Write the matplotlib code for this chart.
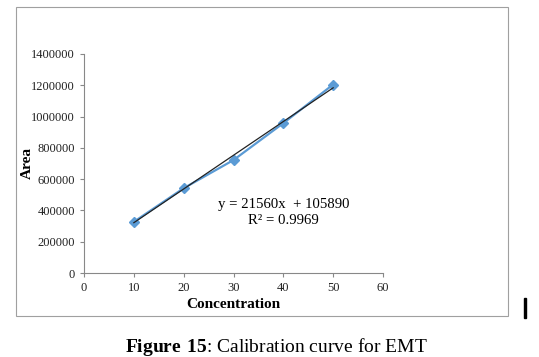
import numpy as np
import matplotlib.pyplot as plt
from matplotlib.patches import Rectangle
from matplotlib.ticker import FormatStrFormatter

conc = [10, 20, 30, 40, 50]
area = [327000, 542000, 722000, 958000, 1205000]
slope = 21560
intercept = 105890
r2 = 0.9969
x_ticks = [0, 10, 20, 30, 40, 50, 60]
y_ticks = [0, 200000, 400000, 600000, 800000, 1000000, 1200000, 1400000]

plt.rcParams['font.family'] = ['Liberation Serif', 'DejaVu Serif']
plt.rcParams['mathtext.fontset'] = 'custom'
plt.rcParams['mathtext.rm'] = 'Liberation Serif'
plt.rcParams['mathtext.bf'] = 'Liberation Serif:bold'

fig = plt.figure(figsize=(5.39, 3.57), dpi=100)
W, H = 539, 357

# outer chart frame
fig.patches.append(Rectangle((16 / W, 1 - 316 / H), (508 - 16) / W, (316 - 7) / H,
                             transform=fig.transFigure, fill=False,
                             edgecolor='#a0a0a0', linewidth=0.8))
fig.patches.append(Rectangle((524 / W, 1 - 318 / H), 2 / W, 20 / H,
                             transform=fig.transFigure, color='black'))

ax = fig.add_axes([84 / W, 1 - 273 / H, (383 - 84) / W, (273 - 54) / H])

ax.plot(conc, area, color='#5b9bd5', linewidth=1.6, marker='D', markersize=5,
        markeredgecolor='#5b9bd5')
xs = np.array([conc[0], conc[-1]])
ax.plot(xs, slope * xs + intercept, color='#222222', linewidth=0.9)

ax.set_xlim(0, 60)
ax.set_ylim(0, 1400000)
ax.set_xticks(x_ticks)
ax.set_yticks(y_ticks)
ax.yaxis.set_major_formatter(FormatStrFormatter('%d'))
ax.tick_params(labelsize=9, labelcolor='#222222', length=3, width=0.8, color='#888888')
for s in ['top', 'right']:
    ax.spines[s].set_visible(False)
for s in ['left', 'bottom']:
    ax.spines[s].set_color('#888888')

ax.set_xlabel('Concentration', fontsize=11, fontweight='bold', labelpad=3)
ax.set_ylabel('Area', fontsize=11, fontweight='bold')
ax.yaxis.set_label_coords((34 - 84) / 299, 0.5)

ax.text(40, 385000, 'y = 21560x  + 105890\nR² = 0.9969', fontsize=10.6,
        ha='center', va='center', linespacing=1.3)

fig.text(276 / W, 1 - 347 / H, r'$\mathbf{Figure\ 15}$: Calibration curve for EMT',
         ha='center', va='center', fontsize=14)

fig.savefig('out.png', dpi=100)
